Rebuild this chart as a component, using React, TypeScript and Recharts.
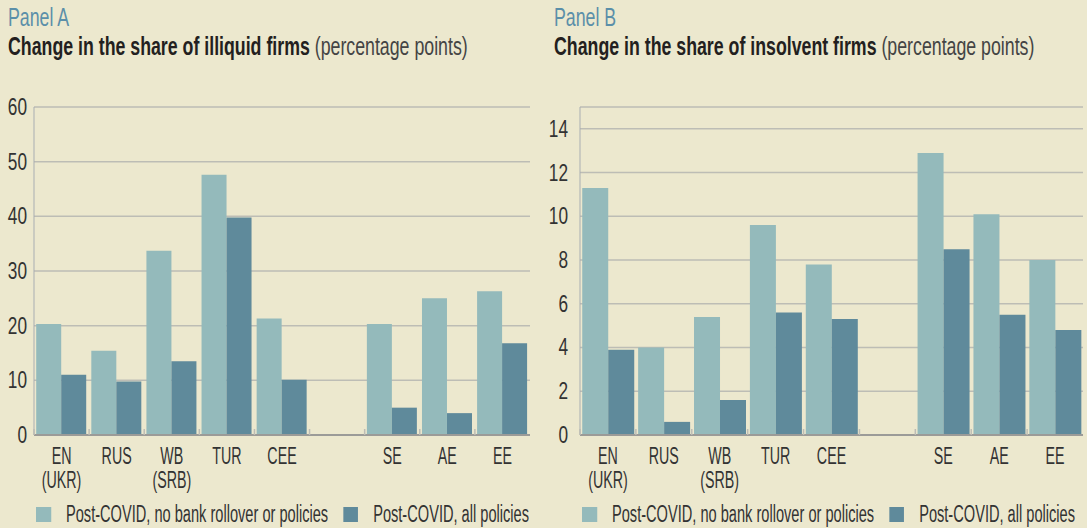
import React from 'react'
import { BarChart, Bar, XAxis, YAxis, CartesianGrid, Legend } from 'recharts'

const categories = ['EN\n(UKR)', 'RUS', 'WB\n(SRB)', 'TUR', 'CEE', '', 'SE', 'AE', 'EE']
const seriesNames = ['Post-COVID, no bank rollover or policies', 'Post-COVID, all policies']

// Panel A: illiquid firms
const illiquidNoPolicy = [20.3, 15.4, 33.7, 47.6, 21.3, null, 20.3, 25.0, 26.3]
const illiquidAllPolicies = [11.0, 9.8, 13.5, 39.8, 10.1, null, 5.0, 4.0, 16.8]
const ticksA = [0, 10, 20, 30, 40, 50, 60]

// Panel B: insolvent firms
const insolventNoPolicy = [11.3, 4.0, 5.4, 9.6, 7.8, null, 12.9, 10.1, 8.0]
const insolventAllPolicies = [3.9, 0.6, 1.6, 5.6, 5.3, null, 8.5, 5.5, 4.8]
const ticksB = [0, 2, 4, 6, 8, 10, 12, 14]

// no condensed font available, so squeeze Liberation Sans horizontally
const FONT = "'Liberation Sans', Arial, sans-serif"
const BG = '#ece8ce'
const LIGHT = '#94babb'
const DARK = '#5f8a9b'
const GRID = '#bdbdb5'
const BORDER = '#a9aeb2'
const AXIS = '#9b9b98'
const TEXT = '#333333'
const LEG_SCALE = 0.635

const CatTick = (props: any) => {
	const { x, y, payload } = props
	const lines = String(payload.value).split('\n')
	const half = payload.offset ?? 0
	return (
		<g>
			<line x1={x - half} x2={x - half} y1={y - 6} y2={y} stroke={GRID} strokeWidth={1.5} />
			{lines.map((l, i) => (
				<text
					key={i}
					transform={`translate(${x},${y + 29 + i * 24}) scale(0.62,1)`}
					textAnchor="middle"
					fill={TEXT}
					fontSize={23}
					fontFamily={FONT}
				>
					{l}
				</text>
			))}
		</g>
	)
}

const NumTick = (props: any) => {
	const { x, y, payload } = props
	return (
		<text
			transform={`translate(${x},${y}) scale(0.75,1)`}
			textAnchor="end"
			dominantBaseline="central"
			fill={TEXT}
			fontSize={23}
			fontFamily={FONT}
		>
			{payload.value}
		</text>
	)
}

const LegendBox = ({ payload, pad }: any) => {
	const items = [...(payload || [])].sort((p: any, q: any) => seriesNames.indexOf(p.value) - seriesNames.indexOf(q.value))
	return (
		<div style={{ position: 'relative', height: 35 }}>
			<div
				style={{
					position: 'absolute',
					left: pad,
					top: 14,
					height: 15,
					display: 'flex',
					alignItems: 'center',
					whiteSpace: 'nowrap',
					transform: `scaleX(${LEG_SCALE})`,
					transformOrigin: 'left center',
					fontFamily: FONT,
					fontSize: 23,
					lineHeight: '15px',
					color: TEXT,
				}}
			>
				{items.map((p: any, i: number) => (
					<div key={i} style={{ display: 'flex', alignItems: 'center', marginRight: 15 / LEG_SCALE }}>
						<span style={{ width: 15 / LEG_SCALE, height: 15, background: p.color, display: 'inline-block', marginRight: 15 / LEG_SCALE }} />
						<span>{p.value}</span>
					</div>
				))}
			</div>
		</div>
	)
}

const Panel = ({ label, title, unit, v1, v2, domain, ticks, left, width, yWidth, tickMargin, right }: any) => {
	const data = categories.map((c, i) => ({ name: c, a: v1[i], b: v2[i] }))
	const squeeze = { display: 'inline-block', transform: 'scaleX(0.71)', transformOrigin: 'left center', whiteSpace: 'nowrap' as const }
	return (
		<div style={{ position: 'absolute', left, top: 0, width, height: 528 }}>
			<div style={{ position: 'absolute', left: 8, top: 5, fontFamily: FONT, fontSize: 25, lineHeight: '25px', color: '#5b8fa9', ...squeeze }}>
				{label}
			</div>
			<div style={{ position: 'absolute', left: 8, top: 34, fontFamily: FONT, fontSize: 25, lineHeight: '25px', color: '#231f20', ...squeeze }}>
				<span style={{ fontWeight: 700 }}>{title}</span>
				<span style={{ color: '#444' }}> {unit}</span>
			</div>
			<div style={{ position: 'absolute', left: 0, top: 80 }}>
				<BarChart
					width={width}
					height={448}
					data={data}
					margin={{ top: 27, right, bottom: 0, left: 0 }}
					barCategoryGap="4%"
					barGap={0}
				>
					<CartesianGrid horizontal vertical={false} stroke={GRID} strokeWidth={1.5} />
					<XAxis
						dataKey="name"
						interval={0}
						height={58}
						tickSize={0}
						tickMargin={0}
						tickLine={false}
						axisLine={{ stroke: AXIS, strokeWidth: 2 }}
						tick={<CatTick />}
					/>
					<XAxis xAxisId="top" dataKey="name" orientation="top" height={0} tick={false} tickLine={false} axisLine={{ stroke: BORDER }} />
					<YAxis
						domain={domain}
						ticks={ticks}
						interval={0}
						width={yWidth}
						tickSize={0}
						tickMargin={tickMargin}
						tickLine={false}
						axisLine={{ stroke: BORDER }}
						tick={<NumTick />}
					/>
					<YAxis yAxisId="right" orientation="right" domain={domain} width={0} tick={false} tickLine={false} axisLine={{ stroke: BORDER }} />
					<Legend
						verticalAlign="bottom"
						height={35}
						wrapperStyle={{ left: 0, width }}
						content={<LegendBox pad={yWidth + 2} />}
					/>
					<Bar dataKey="a" name={seriesNames[0]} fill={LIGHT} isAnimationActive={false} />
					<Bar dataKey="b" name={seriesNames[1]} fill={DARK} isAnimationActive={false} />
				</BarChart>
			</div>
		</div>
	)
}

export default function App() {
	return (
		<div style={{ position: 'absolute', left: 0, top: 0, width: 1087, height: 528, background: BG, overflow: 'hidden' }}>
			<Panel
				label="Panel A"
				title="Change in the share of illiquid firms"
				unit="(percentage points)"
				v1={illiquidNoPolicy}
				v2={illiquidAllPolicies}
				domain={[0, 60]}
				ticks={ticksA}
				left={0}
				width={540}
				yWidth={34}
				tickMargin={7}
				right={10}
			/>
			<Panel
				label="Panel B"
				title="Change in the share of insolvent firms"
				unit="(percentage points)"
				v1={insolventNoPolicy}
				v2={insolventAllPolicies}
				domain={[0, 15]}
				ticks={ticksB}
				left={546}
				width={541}
				yWidth={34}
				tickMargin={12}
				right={4}
			/>
		</div>
	)
}
